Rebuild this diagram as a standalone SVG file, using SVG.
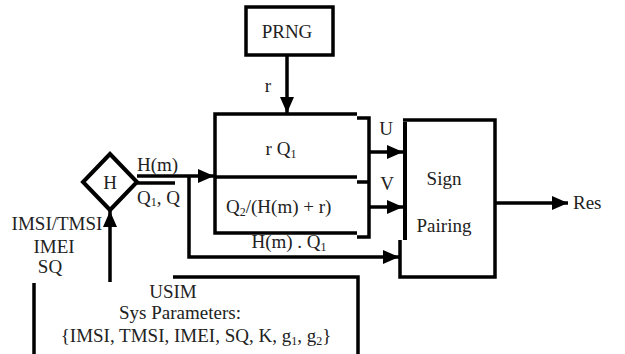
<svg xmlns="http://www.w3.org/2000/svg" width="625" height="354" viewBox="0 0 625 354">
<style>
.ln{fill:none;stroke:#000;stroke-width:3.5}
.bx{fill:#fff;stroke:#000;stroke-width:3.5}
.t{font-family:"Liberation Serif","Times New Roman",serif;fill:#222;font-size:19px}
.s{font-size:12px}
</style>
<defs>
<marker id="ah" viewBox="0 0 16 14" refX="16" refY="7" markerWidth="16" markerHeight="14" markerUnits="userSpaceOnUse" orient="auto">
<path d="M0,0 L16,7 L0,14 Z" fill="#000"/>
</marker>
</defs>
<rect width="625" height="354" fill="#fff"/>

<g id="connectors">
<line class="ln" x1="287" y1="55" x2="287" y2="113" marker-end="url(#ah)"/>
<line class="ln" x1="137" y1="176" x2="214" y2="176" marker-end="url(#ah)"/>
<line class="ln" x1="137" y1="183" x2="175" y2="183"/>
<polyline class="ln" points="189,176 189,257 399,257" marker-end="url(#ah)"/>
<line class="ln" x1="110" y1="282" x2="110" y2="211" marker-end="url(#ah)"/>
<line class="ln" x1="369" y1="152" x2="403" y2="152" marker-end="url(#ah)"/>
<line class="ln" x1="369" y1="207" x2="403" y2="207" marker-end="url(#ah)"/>
<line class="ln" x1="495" y1="203" x2="568" y2="203" marker-end="url(#ah)"/>
</g>

<g id="prng">
<rect class="bx" x="246" y="7" width="87" height="48"/>
<text class="t" x="287" y="38" text-anchor="middle" font-size="20">PRNG</text>
</g>
<text class="t" x="268" y="92" text-anchor="middle">r</text>

<g id="compute">
<path class="ln" d="M357,114 H215 V233 H357"/>
<line class="ln" x1="215" y1="177" x2="357" y2="177"/>
<path class="ln" d="M357,118 H369 V237 H357"/>
<line class="ln" x1="357" y1="182" x2="369" y2="182"/>
<text class="t" x="281" y="155" text-anchor="middle">r Q<tspan class="s" dy="3">1</tspan></text>
<text class="t" x="226" y="213" font-size="20">Q<tspan class="s" dy="3">2</tspan><tspan dy="-3">/(H(m) + r)</tspan></text>
</g>

<g id="hash">
<polygon points="110,154 137,182 110,210 83,182" fill="#fff" stroke="#000" stroke-width="4" stroke-linejoin="miter"/>
<text class="t" x="110" y="189" text-anchor="middle" font-size="20">H</text>
</g>
<text class="t" x="137" y="171" font-size="17">H(m)</text>
<text class="t" x="137" y="204" font-size="17">Q<tspan class="s" font-size="11" dy="2">1</tspan><tspan dy="-2">, Q</tspan></text>
<text class="t" x="289" y="248" text-anchor="middle" font-size="18">H(m) . Q<tspan class="s" dy="3">1</tspan></text>
<text class="t" x="386" y="135" text-anchor="middle">U</text>
<text class="t" x="387" y="190" text-anchor="middle">V</text>

<g id="sign-pairing">
<path class="ln" d="M403,120 H495 V277 H400 V240"/>
<line x1="405" y1="122" x2="405" y2="240" stroke="#000" stroke-width="4"/>
<text class="t" x="444" y="185" text-anchor="middle" font-size="20">Sign</text>
<text class="t" x="444" y="232" text-anchor="middle" font-size="20">Pairing</text>
</g>
<text class="t" x="573" y="209" font-size="20">Res</text>

<g id="ids">
<text class="t" x="57" y="230" text-anchor="middle" font-size="18">IMSI/TMSI</text>
<text class="t" x="54" y="253" text-anchor="middle" font-size="18">IMEI</text>
<text class="t" x="50" y="273" text-anchor="middle" font-size="18">SQ</text>
</g>

<g id="usim">
<path class="ln" d="M173,277 H358 V356"/>
<line class="ln" x1="34" y1="283" x2="34" y2="356"/>
<text class="t" x="173" y="298" text-anchor="middle" font-size="20">USIM</text>
<text class="t" x="180" y="319" text-anchor="middle" font-size="20">Sys Parameters:</text>
<text class="t" x="196" y="342" text-anchor="middle" font-size="20">{IMSI, TMSI, IMEI, SQ, K, g<tspan class="s" dy="3">1</tspan><tspan dy="-3">, g</tspan><tspan class="s" dy="3">2</tspan><tspan dy="-3">}</tspan></text>
</g>
</svg>
